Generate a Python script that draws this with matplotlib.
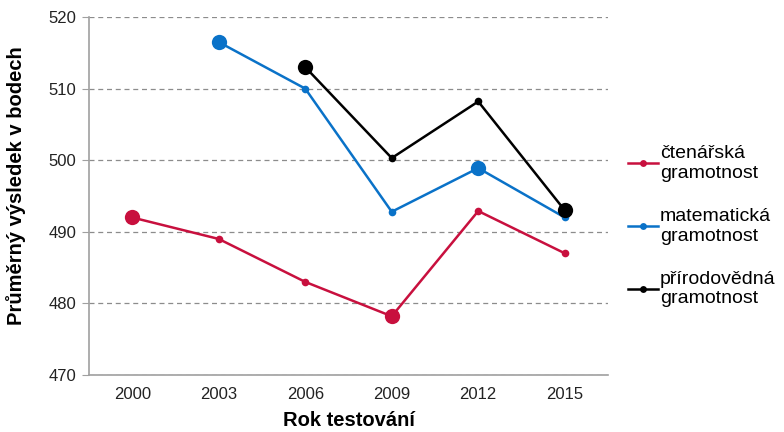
import matplotlib
matplotlib.use("Agg")
import matplotlib.pyplot as plt
import numpy as np

plt.rcParams['font.family'] = ['Liberation Sans', 'DejaVu Sans']

years = ["2000", "2003", "2006", "2009", "2012", "2015"]

reading = [492, 489, 483, 478.2, 492.9, 487]
math = [None, 516.5, 510, 492.8, 498.9, 492]
science = [None, None, 513, 500.3, 508.2, 493]

# points drawn with a larger marker
reading_big = [True, False, False, True, False, False]
math_big = [False, True, False, False, True, False]
science_big = [False, False, True, False, False, True]

labels = ["čtenářská\ngramotnost", "matematická\ngramotnost", "přírodovědná\ngramotnost"]
colors = ["#C8103E", "#0A72C8", "#000000"]

fig = plt.figure(figsize=(7.84, 4.32), dpi=100)
ax = fig.add_axes([0.1135, 0.132, 0.662, 0.8286])

x = np.arange(len(years))
handles = []
for vals, big, lab, col in zip([reading, math, science],
                               [reading_big, math_big, science_big],
                               labels, colors):
    xs = [xi for xi, v in zip(x, vals) if v is not None]
    ys = [v for v in vals if v is not None]
    bs = [b for b, v in zip(big, vals) if v is not None]
    h, = ax.plot(xs, ys, color=col, lw=1.8, marker='o', ms=5.5,
                 markeredgewidth=0, label=lab, zorder=3)
    handles.append(h)
    bx = [a for a, b in zip(xs, bs) if b]
    by = [a for a, b in zip(ys, bs) if b]
    ax.plot(bx, by, ls='none', marker='o', ms=11, color=col,
            markeredgewidth=0, zorder=4)

ax.set_xlim(-0.5, len(years) - 0.5)
ax.set_ylim(470, 520)
ax.set_yticks(np.arange(470, 521, 10))
ax.set_xticks(x)
ax.set_xticklabels(years)

ax.yaxis.grid(True, linestyle=(0, (4, 3)), color='#8c8c8c', lw=0.9)
ax.set_axisbelow(True)
for s in ['top', 'right']:
    ax.spines[s].set_visible(False)
for s in ['left', 'bottom']:
    ax.spines[s].set_color('#a0a0a0')
    ax.spines[s].set_linewidth(1.2)
ax.tick_params(axis='y', length=5, color='#a0a0a0', labelsize=12,
               labelcolor='#222222', pad=4)
ax.tick_params(axis='x', length=0, labelsize=12, labelcolor='#222222', pad=9)

ax.set_xlabel("Rok testování", fontsize=14.5, fontweight='bold', labelpad=6)
ax.set_ylabel("Průměrný výsledek v bodech", fontsize=14.5, fontweight='bold')
ax.yaxis.set_label_coords(-0.121, 0.53)

fig.legend(handles=handles, labels=labels, loc='upper left',
           bbox_to_anchor=(0.801, 0.664), frameon=False, fontsize=14,
           borderpad=0, borderaxespad=0,
           handlelength=1.55, handletextpad=0.1, labelspacing=1.35,
           markerscale=0.9)

fig.savefig("out.png", dpi=100)
